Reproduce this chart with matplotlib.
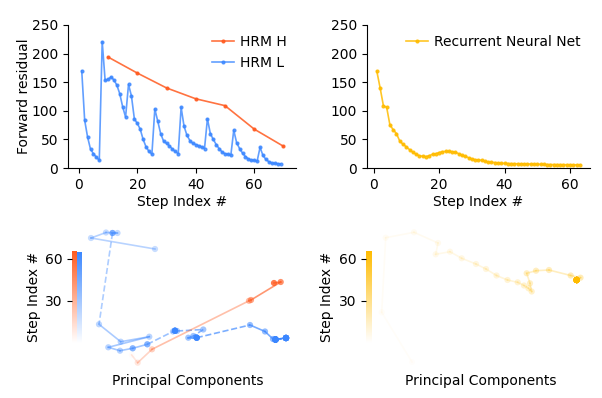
import numpy as np
import matplotlib
matplotlib.use("Agg")
import matplotlib.pyplot as plt
from matplotlib.colors import to_rgb

# ---------------- data ----------------
# forward residual per step (top panels)
hrm_h_steps = [10, 20, 30, 40, 50, 60, 70]
hrm_h_resid = [194, 166, 140, 121, 109, 68, 38]

hrm_l_steps = list(range(1, 70))
hrm_l_resid = [170, 83.5, 54, 33, 25, 19, 13.5,
               221, 153, 155, 159, 154, 145, 130, 107, 89,
               146, 126, 86, 78, 68, 50, 37, 29, 24,
               103, 82, 60, 47, 43, 39, 33, 29, 25,
               106, 73, 57, 48, 43, 41, 39, 37, 34,
               86, 60, 50, 41, 34, 28, 25, 24, 22,
               66, 44, 34, 26, 20, 16, 14, 13.5, 12,
               36, 22, 15, 11, 9, 8, 7.5, 7]

rnn_steps = list(range(1, 64))
rnn_resid = [169, 140, 109, 106, 75, 67, 60, 47, 41.5, 37,
             32, 27.5, 24, 21.5, 20.5, 20, 21.5, 24, 25, 27,
             28.5, 29, 29, 28.5, 27.5, 25, 22, 20.5, 18, 16,
             14.5, 14, 13.5, 12, 10.5, 10, 9.5, 9, 8.5, 8,
             7.8, 7.6, 7.5, 7.4, 7.3, 7.2, 7.0, 6.9, 6.8, 6.6,
             6.4, 6.2, 6.1, 6.0, 6.0, 5.9, 5.8, 5.8, 5.7, 5.7,
             5.6, 5.6, 5.6]

# principal-component trajectories (bottom panels), arbitrary PC units
h_pc1 = [131.7, 137.7, 152.0, 249.0, 251.0, 280.7, 274.0]
h_pc2 = [43.0, 35.3, 48.7, 97.2, 98.0, 116.0, 115.0]

l_pc1 = ([155, 91, 106, 117.5, 112.5, 112.5, 112.5] +
         [99, 120.7, 149.3, 108.3, 120, 132.7, 132.7, 147.3, 147.3] +
         [173] + [175] * 7 + [177] +
         [203.3] +
         [193.3, 188.3] + [196.7] * 6 +
         [250, 265, 273] + [275.5] * 6 +
         [286] * 9 +
         [275.5] * 9 +
         [286] * 8)
l_pc2 = ([149, 160, 165.5, 165, 165, 165, 165] +
         [73.7, 56.3, 61.3, 50.7, 47.3, 49.7, 49.7, 53.7, 53.7] +
         [66.5] + [67.3] * 7 + [67] +
         [68.5] +
         [62, 60.3] + [60.3] * 6 +
         [73, 66.5, 59] + [58.5] * 6 +
         [60] * 9 +
         [58.5] * 9 +
         [60] * 8)
l_cycle = ([1] * 7 + [2] * 9 + [3] * 9 + [4] + [5] * 8 + [6] * 9 +
           [7] * 9 + [8] * 9 + [9] * 8)

r_pc1 = [412, 381.7, 385.7, 414, 438, 435.7, 450, 461.7, 476, 486,
         496.5, 507.5, 517.7, 524, 528.5, 531.7, 530, 526.7, 536, 549,
         570.7, 580.5] + [576.7] * 41
r_pc2 = [36, 85.7, 160.3, 165.7, 155, 143.7, 146.3, 139.7, 134, 129,
         122.5, 118, 115.7, 112.5, 109.7, 106.5, 114.7, 124.7, 127.3, 128,
         122.5, 120.3] + [118] * 41

# ---------------- style ----------------
C_H = "#FF5A1F"
C_L = "#3B87FF"
C_R = "#FFBC00"
FS = 10

W, H = 602, 398
fig = plt.figure(figsize=(W / 100, H / 100), dpi=100)


def ax_px(l, t, r, b):
    return fig.add_axes([l / W, 1 - b / H, (r - l) / W, (b - t) / H])


def style_top(ax):
    for s in ("top", "right"):
        ax.spines[s].set_visible(False)
    ax.set_ylim(0, 250)
    ax.set_yticks([0, 50, 100, 150, 200, 250])
    ax.tick_params(labelsize=FS)
    ax.set_xlabel("Step Index #", fontsize=FS, labelpad=2)


# top-left
ax1 = ax_px(68, 25, 296, 168)
ax1.plot(hrm_h_steps, hrm_h_resid, color=C_H, alpha=0.85, lw=1.2,
         marker="o", ms=2, label="HRM H")
ax1.plot(hrm_l_steps, hrm_l_resid, color=C_L, alpha=0.8, lw=1.2,
         marker="o", ms=2, label="HRM L")
style_top(ax1)
ax1.set_xlim(-3.7, 74.3)
ax1.set_xticks([0, 20, 40, 60])
ax1.set_ylabel("Forward residual", fontsize=FS, labelpad=1)
ax1.legend(loc="upper right", frameon=False, fontsize=FS, handlelength=1.6,
           handletextpad=0.4, borderaxespad=0.3)

# top-right
ax2 = ax_px(366.7, 25, 590, 168)
ax2.plot(rnn_steps, rnn_resid, color=C_R, alpha=0.85, lw=1.2,
         marker="o", ms=2, label="Recurrent Neural Net")
style_top(ax2)
ax2.set_xticks([0, 20, 40, 60])
ax2.legend(loc="upper right", frameon=False, fontsize=FS, handlelength=1.6,
           handletextpad=0.4, borderaxespad=0.3)


def draw_traj(ax, x, y, color, a0, cycles=None, ms=20, line_k=0.75):
    n = len(x)
    frac = np.arange(n) / (n - 1)
    alpha = a0 + (1 - a0) * frac
    rgb = to_rgb(color)
    for i in range(1, n):
        ls = "-"
        if cycles is not None and cycles[i] != cycles[i - 1]:
            ls = "--"
        ax.plot([x[i - 1], x[i]], [y[i - 1], y[i]], color=rgb,
                alpha=min(1.0, alpha[i] * line_k), lw=1.2, ls=ls,
                clip_on=False)
    cols = [(*rgb, a * 0.8) for a in alpha]
    ax.scatter(x, y, s=ms, c=cols, edgecolors="none", zorder=3, clip_on=False)


def bottom_axes(l, r):
    ax = ax_px(l, 225, r, 372)
    ax.set_xlim(l, r)
    ax.set_ylim(398 - 372, 398 - 225)
    ax.axis("off")
    return ax


def gradient_bar(ax, color, x0, x1, top):
    rgb = to_rgb(color)
    n = 256
    img = np.zeros((n, 1, 4))
    img[:, 0, :3] = rgb
    img[:, 0, 3] = np.linspace(0, 1, n)
    ax.imshow(img, origin="lower", aspect="auto",
              extent=[x0, x1, 0, top], interpolation="bilinear")


def cbar_axes(l, r):
    ax = ax_px(l, 250.6, r, 343)
    ax.set_xlim(0, 1)
    ax.set_ylim(0, 66)
    for s in ax.spines.values():
        s.set_visible(False)
    ax.set_xticks([])
    ax.set_yticks([30, 60])
    ax.tick_params(labelsize=FS)
    ax.set_ylabel("Step Index #", fontsize=FS, labelpad=3)
    return ax


# bottom-left
ax3 = bottom_axes(85, 295)
draw_traj(ax3, l_pc1, l_pc2, C_L, 0.35, cycles=l_cycle, line_k=1.0)
draw_traj(ax3, h_pc1, h_pc2, C_H, 0.02)
fig.text(188 / W, 1 - 381 / H, "Principal Components", fontsize=FS,
         ha="center", va="center")

cb1 = cbar_axes(72.3, 81.7)
gradient_bar(cb1, C_H, 0, 0.53, 65.2)
gradient_bar(cb1, C_L, 0.53, 1.0, 64.3)
cb1.set_xlim(0, 1)
cb1.set_ylim(0, 66)

# bottom-right
ax4 = bottom_axes(375, 595)
draw_traj(ax4, r_pc1, r_pc2, C_R, 0.02)
fig.text(481 / W, 1 - 381 / H, "Principal Components", fontsize=FS,
         ha="center", va="center")

cb2 = cbar_axes(366, 371.7)
gradient_bar(cb2, C_R, 0, 1, 65.2)
cb2.set_xlim(0, 1)
cb2.set_ylim(0, 66)

fig.savefig("out.png", dpi=100)
